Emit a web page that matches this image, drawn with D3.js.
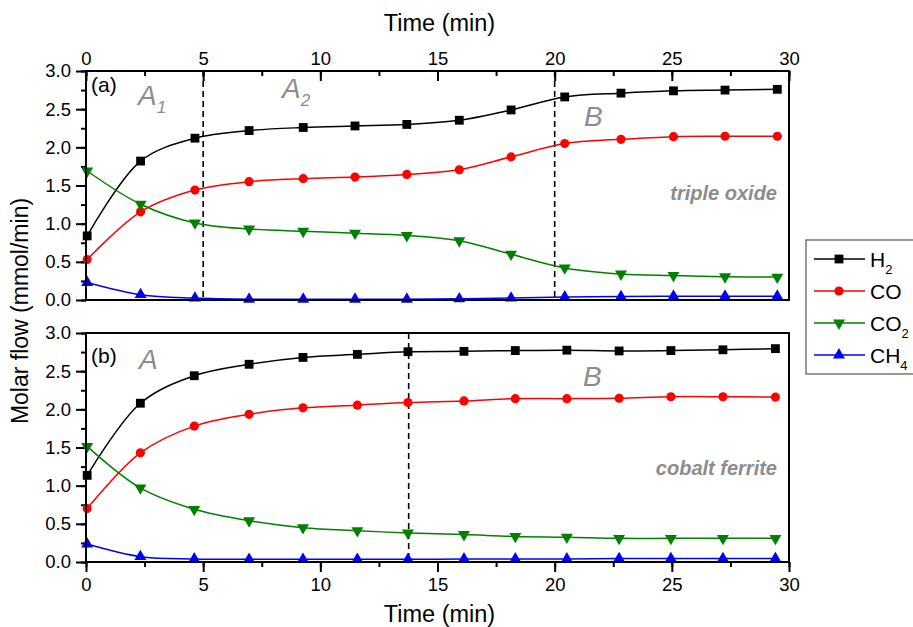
<!DOCTYPE html>
<html>
<head>
<meta charset="utf-8">
<script src="https://cdn.jsdelivr.net/npm/d3@7"></script>
<style>
  body { margin: 0; background: #fff; }
  svg text { font-family: "Liberation Sans", Arial, sans-serif; }
</style>
</head>
<body>
<div id="canvas"></div>
<script>
// panel (a): triple oxide
const timeA = [0.05, 2.33, 4.65, 6.96, 9.27, 11.48, 13.69, 15.93, 18.14, 20.43, 22.83, 25.07, 27.27, 29.5];
const h2A  = [0.84, 1.82, 2.12, 2.22, 2.26, 2.28, 2.30, 2.355, 2.49, 2.66, 2.71, 2.74, 2.75, 2.76];
const coA  = [0.53, 1.155, 1.44, 1.55, 1.59, 1.61, 1.645, 1.705, 1.875, 2.05, 2.105, 2.14, 2.145, 2.145];
const co2A = [1.69, 1.255, 1.01, 0.93, 0.90, 0.875, 0.845, 0.776, 0.60, 0.42, 0.34, 0.32, 0.305, 0.30];
const ch4A = [0.23, 0.07, 0.025, 0.01, 0.01, 0.01, 0.01, 0.015, 0.025, 0.04, 0.045, 0.05, 0.05, 0.05];

// panel (b): cobalt ferrite
const timeB = [0.05, 2.32, 4.62, 6.96, 9.26, 11.58, 13.74, 16.13, 18.32, 20.52, 22.75, 24.96, 27.18, 29.42];
const h2B  = [1.135, 2.08, 2.44, 2.59, 2.68, 2.72, 2.755, 2.76, 2.77, 2.775, 2.765, 2.77, 2.78, 2.795];
const coB  = [0.70, 1.43, 1.78, 1.935, 2.02, 2.055, 2.09, 2.11, 2.14, 2.14, 2.145, 2.165, 2.165, 2.16];
const co2B = [1.515, 0.97, 0.69, 0.54, 0.45, 0.41, 0.38, 0.36, 0.335, 0.325, 0.31, 0.31, 0.31, 0.31];
const ch4B = [0.235, 0.07, 0.04, 0.035, 0.035, 0.035, 0.035, 0.04, 0.04, 0.04, 0.045, 0.045, 0.045, 0.045];

const xTicks = [0, 5, 10, 15, 20, 25, 30];
const yTicks = [0, 0.5, 1.0, 1.5, 2.0, 2.5, 3.0];
const dashA = [5, 20];
const dashB = [13.77];

const seriesNames = ["H₂", "CO", "CO₂", "CH₄"];
const colors = ["#000000", "#ff0000", "#008000", "#0000ff"];

const width = 913;
const height = 627;
const left = 86, right = 789;

const svg = d3.select("#canvas").append("svg")
  .attr("width", width).attr("height", height);

const x = d3.scaleLinear().domain([0, 30]).range([left, right]);

const symbols = [
  d3.symbol().type(d3.symbolSquare).size(78),
  d3.symbol().type(d3.symbolCircle).size(66),
  d3.symbol().type(d3.symbolTriangle).size(62),
  d3.symbol().type(d3.symbolTriangle).size(62)
];
const rot = [0, 0, 180, 0];

function styleAxis(g) {
  g.select(".domain").remove();
  g.selectAll("line").attr("stroke", "#000").attr("stroke-width", 2);
  g.selectAll("text").attr("font-size", 18.5).attr("fill", "#000")
    .style("font-family", "'Liberation Sans', Arial, sans-serif");
}

function drawPanel(top, bottom, times, series, opts) {
  const y = d3.scaleLinear().domain([0, 3]).range([bottom, top]);
  const g = svg.append("g");

  // left axis, ticks outward
  g.append("g").attr("transform", `translate(${left},0)`)
    .call(d3.axisLeft(y).tickValues(d3.range(0, 3.01, 0.25)).tickSize(5).tickFormat(""))
    .call(styleAxis);
  g.append("g").attr("transform", `translate(${left},0)`)
    .call(d3.axisLeft(y).tickValues(yTicks).tickSize(10).tickPadding(5).tickFormat(d3.format(".1f")))
    .call(styleAxis);

  if (opts.topAxis) {
    g.append("g").attr("transform", `translate(0,${top})`)
      .call(d3.axisTop(x).tickValues(d3.range(0, 30.1, 2.5)).tickSize(-5).tickFormat(""))
      .call(styleAxis);
    g.append("g").attr("transform", `translate(0,${top})`)
      .call(d3.axisTop(x).tickValues(xTicks).tickSize(-10).tickPadding(6).tickFormat(d3.format("d")))
      .call(styleAxis);
  } else {
    g.append("g").attr("transform", `translate(0,${bottom})`)
      .call(d3.axisBottom(x).tickValues(d3.range(0, 30.1, 2.5)).tickSize(5).tickFormat(""))
      .call(styleAxis);
    g.append("g").attr("transform", `translate(0,${bottom})`)
      .call(d3.axisBottom(x).tickValues(xTicks).tickSize(10).tickPadding(6).tickFormat(d3.format("d")))
      .call(styleAxis);
  }

  // dashed region lines
  g.selectAll(".dash").data(opts.dashes).enter().append("line")
    .attr("x1", d => x(d)).attr("x2", d => x(d))
    .attr("y1", top).attr("y2", bottom)
    .attr("stroke", "#000").attr("stroke-width", 1.6)
    .attr("stroke-dasharray", "6,4");

  const line = d3.line()
    .x(d => x(d[0])).y(d => y(d[1]))
    .curve(d3.curveCatmullRom.alpha(0.5));

  series.forEach((vals, i) => {
    const pts = times.map((t, k) => [t, vals[k]]);
    g.append("path").datum(pts)
      .attr("fill", "none").attr("stroke", colors[i]).attr("stroke-width", 1.5)
      .attr("d", line);
    g.selectAll(".m" + i).data(pts).enter().append("path")
      .attr("transform", d => `translate(${x(d[0])},${y(d[1])}) rotate(${rot[i]})`)
      .attr("d", symbols[i])
      .attr("fill", colors[i]);
  });

  // frame
  g.append("rect")
    .attr("x", left).attr("y", top)
    .attr("width", right - left).attr("height", bottom - top)
    .attr("fill", "none").attr("stroke", "#000").attr("stroke-width", 2);

  // annotations
  g.append("text").attr("x", left + 5).attr("y", opts.labelY)
    .attr("font-size", 21).text(opts.label);

  opts.regions.forEach(r => {
    const t = g.append("text").attr("x", r.x).attr("y", r.y)
      .attr("font-size", 28).attr("font-style", "italic").attr("fill", "#8c8c8c")
      .text(r.text);
    if (r.sub) t.append("tspan").attr("font-size", 17).attr("dy", 8).text(r.sub);
  });

  g.append("text").attr("x", right - 12).attr("y", opts.nameY)
    .attr("text-anchor", "end").attr("font-size", 20)
    .attr("font-weight", "bold").attr("font-style", "italic").attr("fill", "#8c8c8c")
    .text(opts.name);
}

drawPanel(71, 300, timeA, [h2A, coA, co2A, ch4A], {
  topAxis: true, dashes: dashA, label: "(a)", labelY: 92,
  regions: [
    { text: "A", sub: "1", x: 138, y: 105 },
    { text: "A", sub: "2", x: 282, y: 98 },
    { text: "B", x: 584, y: 126 }
  ],
  name: "triple oxide", nameY: 200
});

drawPanel(333, 562, timeB, [h2B, coB, co2B, ch4B], {
  topAxis: false, dashes: dashB, label: "(b)", labelY: 363,
  regions: [
    { text: "A", x: 139, y: 369 },
    { text: "B", x: 583, y: 386 }
  ],
  name: "cobalt ferrite", nameY: 475
});

// axis titles
svg.append("text").attr("x", (left + right) / 2 + 2).attr("y", 31)
  .attr("text-anchor", "middle").attr("font-size", 23.5).text("Time (min)");
svg.append("text").attr("x", (left + right) / 2 + 2).attr("y", 622)
  .attr("text-anchor", "middle").attr("font-size", 23.5).text("Time (min)");
svg.append("text")
  .attr("transform", "translate(28,311) rotate(-90)")
  .attr("text-anchor", "middle").attr("font-size", 23).text("Molar flow (mmol/min)");

// legend
const legend = svg.append("g");
legend.append("rect").attr("x", 806).attr("y", 240).attr("width", 120).attr("height", 134)
  .attr("fill", "#fff").attr("stroke", "#555").attr("stroke-width", 1.2);
const legY = d3.scalePoint().domain(seriesNames).range([259, 355]);
seriesNames.forEach((name, i) => {
  const yy = legY(name);
  legend.append("line").attr("x1", 814).attr("x2", 865).attr("y1", yy).attr("y2", yy)
    .attr("stroke", colors[i]).attr("stroke-width", 1.5);
  legend.append("path").attr("transform", `translate(839,${yy}) rotate(${rot[i]})`)
    .attr("d", symbols[i]).attr("fill", colors[i]);
  const base = name.replace(/[₂₄]/, "");
  const sub = name.match(/₂/) ? "2" : name.match(/₄/) ? "4" : null;
  const t = legend.append("text").attr("x", 870).attr("y", yy + 7.5).attr("font-size", 21).text(base);
  if (sub) t.append("tspan").attr("font-size", 13).attr("dy", 7).text(sub);
});
</script>
</body>
</html>
